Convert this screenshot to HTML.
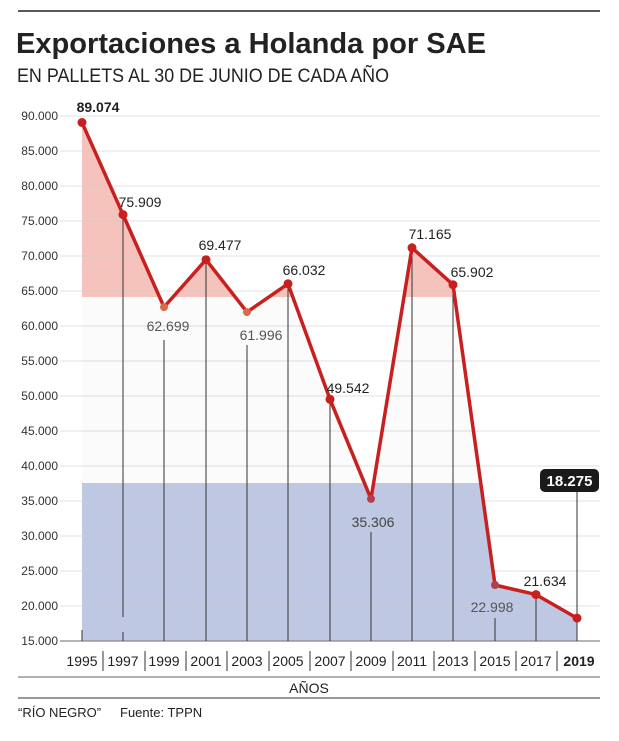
<!DOCTYPE html>
<html><head><meta charset="utf-8"><style>
body{margin:0;background:#fff;}
svg{display:block;font-family:"Liberation Sans",sans-serif;}
</style></head><body>
<svg width="619" height="741" viewBox="0 0 619 741">
<defs>
<clipPath id="area"><polygon points="82,122.5 123,214.6 164,307.1 206,259.7 247,312.1 288,283.8 330,399.3 371,498.9 412,247.8 453,284.7 495,585 536,594.6 577,618.1 577,641 82,641"/></clipPath>
</defs>
<line x1="18" y1="11" x2="600" y2="11" stroke="#222" stroke-width="1.5"/>
<text x="16" y="53" font-size="29" font-weight="bold" fill="#222" textLength="470" lengthAdjust="spacingAndGlyphs">Exportaciones a Holanda por SAE</text>
<text x="17" y="82" font-size="19" fill="#222" textLength="372" lengthAdjust="spacingAndGlyphs">EN PALLETS AL 30 DE JUNIO DE CADA AÑO</text>
<g clip-path="url(#area)">
<rect x="60" y="100" width="540" height="197" fill="#f5c3bb"/>
<rect x="60" y="297" width="540" height="186" fill="#fbfbfb"/>
<rect x="60" y="483" width="540" height="158" fill="#bfc8e3"/>
</g>
<g stroke="#ccc" stroke-width="1" opacity="0.6">
<line x1="60" y1="116" x2="600" y2="116"/><line x1="60" y1="151" x2="600" y2="151"/>
<line x1="60" y1="186" x2="600" y2="186"/><line x1="60" y1="221" x2="600" y2="221"/>
<line x1="60" y1="256" x2="600" y2="256"/><line x1="60" y1="291" x2="600" y2="291"/>
<line x1="60" y1="326" x2="600" y2="326"/><line x1="60" y1="361" x2="600" y2="361"/>
<line x1="60" y1="396" x2="600" y2="396"/><line x1="60" y1="431" x2="600" y2="431"/>
<line x1="60" y1="466" x2="600" y2="466"/><line x1="60" y1="501" x2="600" y2="501"/>
<line x1="60" y1="536" x2="600" y2="536"/><line x1="60" y1="571" x2="600" y2="571"/>
<line x1="60" y1="606" x2="600" y2="606"/>
</g>
<line x1="60" y1="641" x2="600" y2="641" stroke="#888" stroke-width="1.2"/>
<g font-size="12" fill="#333" text-anchor="end">
<text x="58" y="120">90.000</text><text x="58" y="155">85.000</text><text x="58" y="190">80.000</text>
<text x="58" y="225">75.000</text><text x="58" y="260">70.000</text><text x="58" y="295">65.000</text>
<text x="58" y="330">60.000</text><text x="58" y="365">55.000</text><text x="58" y="400">50.000</text>
<text x="58" y="435">45.000</text><text x="58" y="470">40.000</text><text x="58" y="505">35.000</text>
<text x="58" y="540">30.000</text><text x="58" y="575">25.000</text><text x="58" y="610">20.000</text>
<text x="58" y="645">15.000</text>
</g>
<g stroke="#333" stroke-width="1">
<line x1="82" y1="630" x2="82" y2="641"/><line x1="123" y1="214" x2="123" y2="617"/><line x1="123" y1="632" x2="123" y2="641"/>
<line x1="164" y1="340" x2="164" y2="641"/><line x1="206" y1="259" x2="206" y2="641"/>
<line x1="247" y1="345" x2="247" y2="641"/><line x1="288" y1="283" x2="288" y2="641"/>
<line x1="330" y1="399" x2="330" y2="641"/><line x1="371" y1="532" x2="371" y2="641"/>
<line x1="412" y1="247" x2="412" y2="641"/><line x1="453" y1="284" x2="453" y2="641"/>
<line x1="495" y1="618" x2="495" y2="641"/><line x1="536" y1="594" x2="536" y2="641"/>
<line x1="577" y1="490" x2="577" y2="641"/>
</g>
<polyline points="82,122.5 123,214.6 164,307.1 206,259.7 247,312.1 288,283.8 330,399.3 371,498.9 412,247.8 453,284.7 495,585 536,594.6 577,618.1" fill="none" stroke="#c8201f" stroke-width="3.5" stroke-linejoin="round"/>
<g fill="#c8201f">
<circle cx="82" cy="122.5" r="4.5"/><circle cx="123" cy="214.6" r="4.5"/><circle cx="164" cy="307.1" r="4" fill="#d96a4a"/>
<circle cx="206" cy="259.7" r="4.5"/><circle cx="247" cy="312.1" r="4" fill="#d96a4a"/><circle cx="288" cy="283.8" r="4.5"/>
<circle cx="330" cy="399.3" r="4.5"/><circle cx="371" cy="498.9" r="4" fill="#b04050"/><circle cx="412" cy="247.8" r="4.5"/>
<circle cx="453" cy="284.7" r="4.5"/><circle cx="495" cy="585" r="4" fill="#b04050"/><circle cx="536" cy="594.6" r="4.5"/>
<circle cx="577" cy="618.1" r="4.5"/>
</g>
<g font-size="14" fill="#222" text-anchor="middle">
<text x="98" y="112" font-weight="bold">89.074</text>
<text x="140" y="207">75.909</text>
<text x="168" y="331" fill="#555">62.699</text>
<text x="220" y="250">69.477</text>
<text x="261" y="340" fill="#555">61.996</text>
<text x="304" y="275">66.032</text>
<text x="348" y="393">49.542</text>
<text x="373" y="527" fill="#444">35.306</text>
<text x="430" y="239">71.165</text>
<text x="472" y="277">65.902</text>
<text x="492" y="612" fill="#555">22.998</text>
<text x="545" y="586">21.634</text>
</g>
<rect x="540" y="469" width="59" height="23" rx="5" fill="#1a1a1a"/>
<text x="569.5" y="486" font-size="15" font-weight="bold" fill="#fff" text-anchor="middle">18.275</text>
<g font-size="14" fill="#222" text-anchor="middle">
<text x="82" y="666">1995</text><text x="123" y="666">1997</text><text x="164" y="666">1999</text>
<text x="206" y="666">2001</text><text x="247" y="666">2003</text><text x="288" y="666">2005</text>
<text x="330" y="666">2007</text><text x="371" y="666">2009</text><text x="412" y="666">2011</text>
<text x="453" y="666">2013</text><text x="495" y="666">2015</text><text x="536" y="666">2017</text>
<text x="579" y="666" font-weight="bold">2019</text>
</g>
<g stroke="#333" stroke-width="1">
<line x1="103" y1="651" x2="103" y2="671"/><line x1="145" y1="651" x2="145" y2="671"/><line x1="186" y1="651" x2="186" y2="671"/>
<line x1="227" y1="651" x2="227" y2="671"/><line x1="269" y1="651" x2="269" y2="671"/><line x1="310" y1="651" x2="310" y2="671"/>
<line x1="351" y1="651" x2="351" y2="671"/><line x1="393" y1="651" x2="393" y2="671"/><line x1="434" y1="651" x2="434" y2="671"/>
<line x1="475" y1="651" x2="475" y2="671"/><line x1="516" y1="651" x2="516" y2="671"/><line x1="557" y1="651" x2="557" y2="671"/>
</g>
<line x1="18" y1="677" x2="600" y2="677" stroke="#999" stroke-width="1.5"/>
<text x="309" y="693" font-size="14" fill="#222" text-anchor="middle">AÑOS</text>
<line x1="18" y1="698" x2="600" y2="698" stroke="#333" stroke-width="1"/>
<text x="18" y="717" font-size="13" fill="#222">“RÍO NEGRO”</text>
<text x="120" y="717" font-size="13" fill="#222">Fuente: TPPN</text>
</svg>
</body></html>
